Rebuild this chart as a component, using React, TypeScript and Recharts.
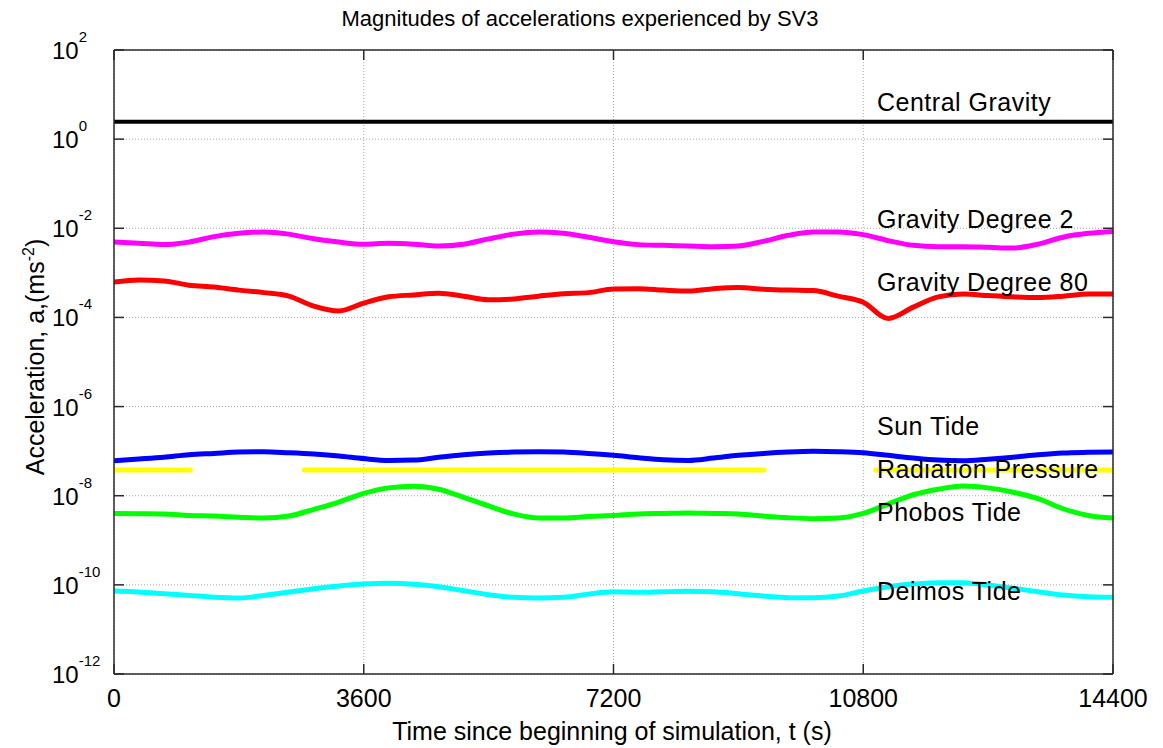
import React from 'react';
import { LineChart, Line, XAxis, YAxis, CartesianGrid } from 'recharts';

// Sample times (s) shared by the sampled acceleration series
const timeSec = [
  0, 360, 720, 1080, 1440, 1800, 2160, 2520, 2880, 3240, 3600, 3960, 4320, 4680,
  5040, 5400, 5760, 6120, 6480, 6840, 7200, 7560, 7920, 8280, 8640, 9000, 9360,
  9720, 10080, 10440, 10800, 11160, 11520, 11880, 12240, 12600, 12960, 13320,
  13680, 14040, 14400,
];

// Acceleration magnitudes, m/s^2
const gravityDegree2 = [
  4.9e-3, 4.6e-3, 4.3e-3, 4.9e-3, 6.5e-3, 7.7e-3, 8.3e-3, 7.4e-3, 5.8e-3, 4.9e-3,
  4.4e-3, 4.6e-3, 4.4e-3, 4.0e-3, 4.4e-3, 5.8e-3, 7.4e-3, 8.3e-3, 7.7e-3, 6.3e-3,
  5.0e-3, 4.3e-3, 4.15e-3, 4.0e-3, 3.86e-3, 4.0e-3, 5.1e-3, 6.95e-3, 8.3e-3, 8.3e-3,
  7.2e-3, 5.3e-3, 4.15e-3, 3.86e-3, 3.86e-3, 3.74e-3, 3.6e-3, 4.4e-3, 6.3e-3, 7.7e-3,
  8.5e-3,
];

const gravityDegree80 = [
  6.2e-4, 6.9e-4, 6.6e-4, 5.3e-4, 4.8e-4, 4.1e-4, 3.6e-4, 3.0e-4, 1.8e-4, 1.4e-4,
  2.1e-4, 2.9e-4, 3.2e-4, 3.5e-4, 3.0e-4, 2.5e-4, 2.6e-4, 3.0e-4, 3.4e-4, 3.6e-4,
  4.35e-4, 4.4e-4, 4.1e-4, 3.9e-4, 4.4e-4, 4.7e-4, 4.3e-4, 4.1e-4, 4.0e-4, 3.0e-4,
  2.2e-4, 9.5e-5, 1.7e-4, 2.9e-4, 3.35e-4, 3.1e-4, 2.9e-4, 2.8e-4, 3.0e-4, 3.35e-4,
  3.35e-4,
];

const sunTide = [
  6.1e-8, 6.65e-8, 7.3e-8, 8.3e-8, 8.9e-8, 9.55e-8, 9.7e-8, 9.2e-8, 8.6e-8, 7.8e-8,
  6.8e-8, 6.2e-8, 6.3e-8, 7.3e-8, 8.3e-8, 9.1e-8, 9.55e-8, 9.7e-8, 9.55e-8, 8.9e-8,
  8.05e-8, 7.1e-8, 6.4e-8, 6.2e-8, 7.0e-8, 8.05e-8, 8.9e-8, 9.55e-8, 9.9e-8, 9.7e-8,
  9.2e-8, 8.05e-8, 7.0e-8, 6.3e-8, 6.1e-8, 6.6e-8, 7.3e-8, 8.3e-8, 9.1e-8, 9.4e-8,
  9.55e-8,
];

const phobosTide = [
  4.0e-9, 3.95e-9, 3.9e-9, 3.6e-9, 3.5e-9, 3.3e-9, 3.15e-9, 3.5e-9, 4.95e-9, 7.2e-9,
  1.13e-8, 1.5e-8, 1.63e-8, 1.4e-8, 9.2e-9, 5.9e-9, 3.9e-9, 3.15e-9, 3.15e-9, 3.4e-9,
  3.6e-9, 3.9e-9, 4.0e-9, 4.1e-9, 4.0e-9, 3.9e-9, 3.5e-9, 3.2e-9, 3.05e-9, 3.15e-9,
  4.0e-9, 6.5e-9, 1.05e-8, 1.4e-8, 1.65e-8, 1.5e-8, 1.2e-8, 8.6e-9, 5.1e-9, 3.6e-9,
  3.15e-9,
];

const deimosTide = [
  7.3e-11, 6.9e-11, 6.3e-11, 5.8e-11, 5.3e-11, 5.1e-11, 5.8e-11, 6.9e-11, 8.2e-11, 9.4e-11,
  1.04e-10, 1.08e-10, 1.03e-10, 9.1e-11, 7.4e-11, 6.0e-11, 5.25e-11, 5.1e-11, 5.3e-11, 6.2e-11,
  7.0e-11, 6.8e-11, 7.0e-11, 7.15e-11, 7.0e-11, 6.3e-11, 5.6e-11, 5.15e-11, 5.15e-11, 5.6e-11,
  7.3e-11, 9.1e-11, 1.04e-10, 1.12e-10, 1.12e-10, 9.9e-11, 8.4e-11, 7.0e-11, 5.9e-11, 5.4e-11,
  5.25e-11,
];

// Central gravity is flat over the run
const centralGravityTime = [0, 3600, 7200, 10800, 14400];
const centralGravity = [2.46, 2.46, 2.46, 2.46, 2.46];

// Radiation pressure drops to zero during eclipses (gaps in the log plot)
const radiationTime = [0, 1100, 1101, 2740, 9370, 9371, 10980, 14400];
const radiationPressure = [3.77e-8, 3.77e-8, null, 3.77e-8, 3.77e-8, null, 3.77e-8, 3.77e-8];

const xTicks = [0, 3600, 7200, 10800, 14400];
const yTicks = [1e2, 1e0, 1e-2, 1e-4, 1e-6, 1e-8, 1e-10, 1e-12];

const seriesLabels = [
  { text: 'Central Gravity', baseline: 111 },
  { text: 'Gravity Degree 2', baseline: 228 },
  { text: 'Gravity Degree 80', baseline: 291 },
  { text: 'Sun Tide', baseline: 435 },
  { text: 'Radiation Pressure', baseline: 478 },
  { text: 'Phobos Tide', baseline: 521 },
  { text: 'Deimos Tide', baseline: 600 },
];

const toRows = (times: number[], values: (number | null)[]) =>
  times.map((t, i) => ({ t, v: values[i] }));

// Chart geometry
const W = 1163;
const H = 748;
const MARGIN = { top: 49, right: 49, bottom: 14, left: 14 };
const LEFT_AXIS_W = 100;
const BOTTOM_AXIS_H = 60;
const PLOT_LEFT = MARGIN.left + LEFT_AXIS_W;
const PLOT_RIGHT = W - MARGIN.right - 1;
const PLOT_TOP = MARGIN.top + 1;
const PLOT_BOTTOM = H - MARGIN.bottom - BOTTOM_AXIS_H;

const FONT = '"Liberation Sans", Arial, Helvetica, sans-serif';
const FRAME = '#2a2a2a';
const TICK_LEN = 10;

const LeftTick = (props: any) => {
  const { y, payload } = props;
  const exp = Math.round(Math.log10(payload.value));
  return (
    <g>
      <line x1={PLOT_LEFT} x2={PLOT_LEFT + TICK_LEN} y1={y} y2={y} stroke={FRAME} strokeWidth={1.5} />
      <text x={52} y={y + 9} fontFamily={FONT} fontSize={24} fill="#000">
        10
        <tspan dy={-17} fontSize={15}>{exp}</tspan>
      </text>
    </g>
  );
};

const RightTick = (props: any) => {
  const { y } = props;
  return <line x1={PLOT_RIGHT - TICK_LEN} x2={PLOT_RIGHT} y1={y} y2={y} stroke={FRAME} strokeWidth={1.5} />;
};

const BottomTick = (props: any) => {
  const { x, payload } = props;
  return (
    <g>
      <line x1={x} x2={x} y1={PLOT_BOTTOM - TICK_LEN} y2={PLOT_BOTTOM} stroke={FRAME} strokeWidth={1.5} />
      <text x={x} y={PLOT_BOTTOM + 33} textAnchor="middle" fontFamily={FONT} fontSize={25} fill="#000">
        {payload.value}
      </text>
    </g>
  );
};

const TopTick = (props: any) => {
  const { x } = props;
  return <line x1={x} x2={x} y1={PLOT_TOP} y2={PLOT_TOP + TICK_LEN} stroke={FRAME} strokeWidth={1.5} />;
};

const lineProps = {
  type: 'monotone' as const,
  dataKey: 'v',
  dot: false,
  activeDot: false,
  isAnimationActive: false,
  strokeWidth: 5,
  strokeLinecap: 'round' as const,
  strokeLinejoin: 'round' as const,
};

export default function App() {
  return (
    <div style={{ position: 'absolute', left: 0, top: 0, width: W, height: H, background: '#fff' }}>
      <LineChart width={W} height={H} margin={MARGIN}>
        <CartesianGrid stroke="#a8a8a8" strokeDasharray="1 2" strokeWidth={1} />
        <XAxis
          type="number"
          dataKey="t"
          domain={[0, 14400]}
          ticks={xTicks}
          allowDataOverflow
          height={BOTTOM_AXIS_H}
          tickSize={0}
          tickMargin={0}
          tickLine={false}
          tick={<BottomTick />}
          axisLine={{ stroke: FRAME, strokeWidth: 1.5 }}
        />
        <XAxis
          xAxisId="top"
          orientation="top"
          type="number"
          dataKey="t"
          domain={[0, 14400]}
          ticks={xTicks}
          allowDataOverflow
          height={1}
          tickSize={0}
          tickMargin={0}
          tickLine={false}
          tick={<TopTick />}
          axisLine={{ stroke: FRAME, strokeWidth: 1.5 }}
        />
        <YAxis
          scale="log"
          type="number"
          domain={[1e-12, 1e2]}
          ticks={yTicks}
          allowDataOverflow
          width={LEFT_AXIS_W}
          tickSize={0}
          tickMargin={0}
          tickLine={false}
          tick={<LeftTick />}
          axisLine={{ stroke: FRAME, strokeWidth: 1.5 }}
        />
        <YAxis
          yAxisId="right"
          orientation="right"
          scale="log"
          type="number"
          domain={[1e-12, 1e2]}
          ticks={yTicks}
          allowDataOverflow
          width={1}
          tickSize={0}
          tickMargin={0}
          tickLine={false}
          tick={<RightTick />}
          axisLine={{ stroke: FRAME, strokeWidth: 1.5 }}
        />

        <Line {...lineProps} data={toRows(centralGravityTime, centralGravity)} stroke="#000000" strokeWidth={4} />
        <Line {...lineProps} data={toRows(timeSec, gravityDegree2)} stroke="#ff00ff" />
        <Line {...lineProps} data={toRows(timeSec, gravityDegree80)} stroke="#ff0000" />
        <Line {...lineProps} data={toRows(timeSec, sunTide)} stroke="#0000ff" />
        <Line {...lineProps} type="linear" data={toRows(radiationTime, radiationPressure)} stroke="#ffff00" />
        <Line {...lineProps} data={toRows(timeSec, phobosTide)} stroke="#00ff00" />
        <Line {...lineProps} data={toRows(timeSec, deimosTide)} stroke="#00ffff" />
        <Line
          {...lineProps}
          xAxisId="top"
          yAxisId="right"
          data={toRows(centralGravityTime, centralGravity)}
          stroke="none"
          legendType="none"
        />

        <g fontFamily={FONT} fill="#000">
          <text x={580} y={26} textAnchor="middle" fontSize={22}>
            Magnitudes of accelerations experienced by SV3
          </text>
          <text x={612} y={740} textAnchor="middle" fontSize={25}>
            Time since beginning of simulation, t (s)
          </text>
          <text transform="translate(44, 357) rotate(-90)" textAnchor="middle" fontSize={25}>
            Acceleration, a,(ms
            <tspan dy={-10} fontSize={16}>-2</tspan>
            <tspan dy={10}>)</tspan>
          </text>
        </g>
      </LineChart>

      {/* Series names sit above the curves */}
      <svg
        width={W}
        height={H}
        style={{ position: 'absolute', left: 0, top: 0, pointerEvents: 'none' }}
      >
        <g fontFamily={FONT} fill="#000">
          {seriesLabels.map((l) => (
            <text key={l.text} x={877} y={l.baseline} fontSize={25} letterSpacing={0.5}>
              {l.text}
            </text>
          ))}
        </g>
      </svg>
    </div>
  );
}
